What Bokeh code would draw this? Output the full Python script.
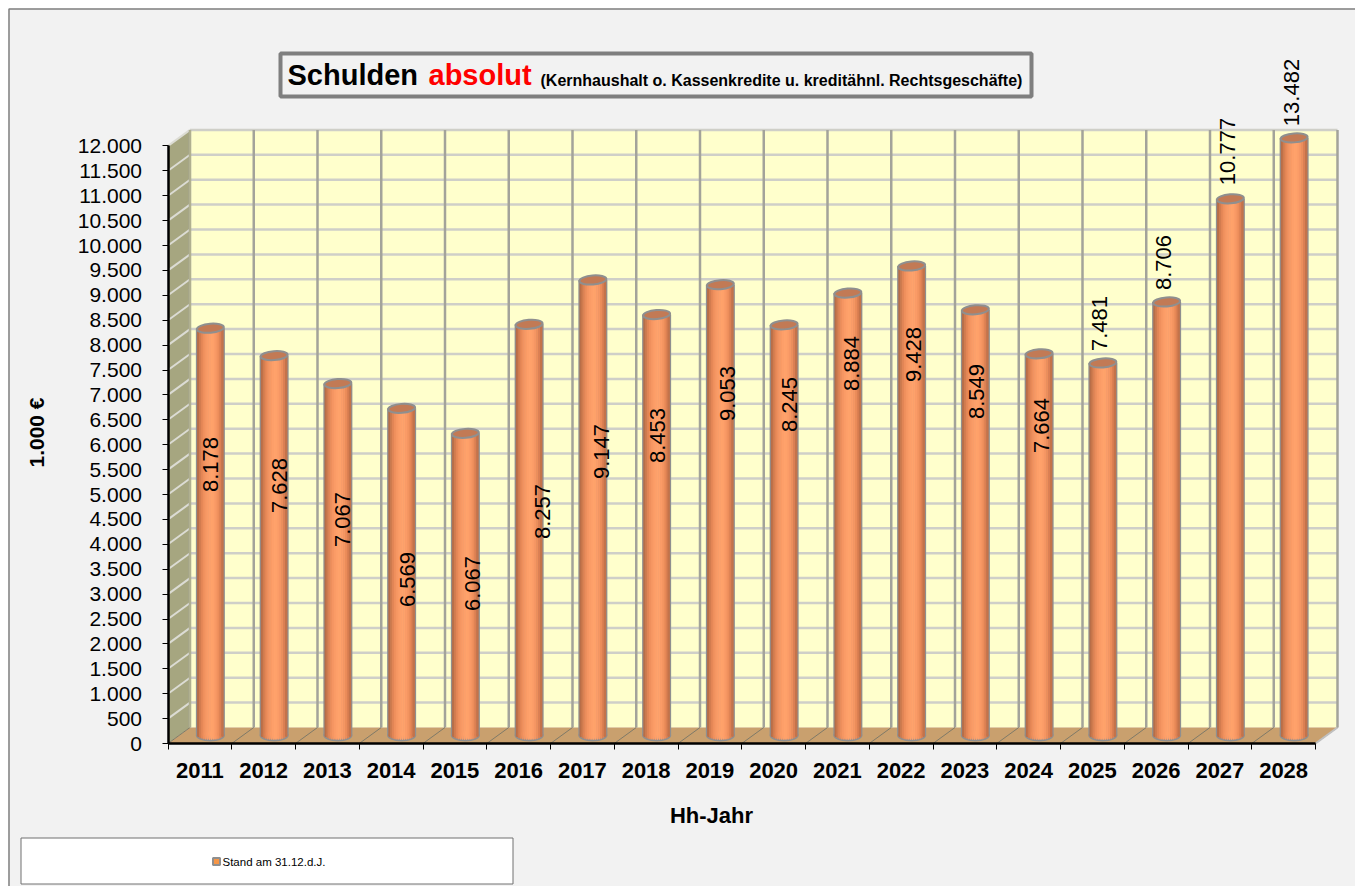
from bokeh.plotting import figure
from bokeh.models import FixedTicker, Range1d
from bokeh.core.properties import value
from bokeh.embed import file_html
from bokeh.resources import INLINE

years = list(range(2011, 2029))
debts = [8178, 7628, 7067, 6569, 6067, 8257, 9147, 8453, 9053, 8245, 8884, 9428, 8549, 7664, 7481, 8706, 10777, 13482]
value_labels = ["8.178", "7.628", "7.067", "6.569", "6.067", "8.257", "9.147", "8.453", "9.053", "8.245",
                "8.884", "9.428", "8.549", "7.664", "7.481", "8.706", "10.777", "13.482"]
# manual placement of the value labels (page pixels, as in the source chart)
label_px_x = [210, 279, 342, 407, 472, 542, 601, 657, 727, 789, 851, 913, 976, 1041, 1099, 1163, 1227, 1291]
label_px_y = [464, 485, 519, 579, 583, 511, 451, 435, 393, 404, 363, 354, 391, 425, 323, 262, 151, 92]
y_ticks = list(range(0, 12001, 500))
AXIS_MAX = 12000

W, H = 1355, 886
PX_X, PX_Y = 63.75, 24.9 / 500
X0_PAGE, Y0_PAGE = 167.5, 743
xs = 2010.5 - X0_PAGE / PX_X
ytop = Y0_PAGE / PX_Y
p = figure(width=W, height=H, output_backend="svg", toolbar_location=None, min_border=0,
           x_range=Range1d(xs, xs + W / PX_X), y_range=Range1d(ytop - H / PX_Y, ytop),
           background_fill_color="#ffffff", border_fill_color="#ffffff", outline_line_color=None)
p.extra_x_ranges["px"] = Range1d(0, W)
p.extra_y_ranges["px"] = Range1d(H, 0)
p.grid.visible = False
PX = dict(x_range_name="px", y_range_name="px")
FONT = value("Liberation Sans")

XL, XR = 2010.5, 2028.5
DX, DY = 22 / PX_X, 16 / PX_Y            # depth of the 3D box
BX, BY = 10.5 / PX_X, 8 / PX_Y           # bars stand mid-depth

# chart area and its outer frame
p.quad(left=[8], right=[W], top=[8], bottom=[H], fill_color="#f2f2f2", line_color=None, **PX)
p.line([8.5, 8.5, W], [H, 8.5, 8.5], line_color="#7f7f7f", line_width=1.5, **PX)

# walls and floor
p.patch([XL, XL + DX, XL + DX, XL], [0, DY, AXIS_MAX + DY, AXIS_MAX], fill_color="#a6a680", line_color=None)
p.patch([XL + DX, XR + DX, XR + DX, XL + DX], [DY, DY, AXIS_MAX + DY, AXIS_MAX + DY], fill_color="#ffffcc", line_color=None)
p.patch([XL, XR, XR + DX, XL + DX], [0, 0, DY, DY], fill_color="#c9a06e", line_color=None)

# grid
grid_y = y_ticks[1:]
p.multi_line([[XL + DX, XR + DX] for _ in grid_y], [[t + DY, t + DY] for t in grid_y], line_color="#cfcfc8", line_width=2.5)
p.multi_line([[XL, XL + DX] for _ in grid_y], [[t, t + DY] for t in grid_y], line_color="#dcdcd4", line_width=2)
bounds = [XL + i for i in range(len(years) + 1)]
p.multi_line([[b + DX, b + DX] for b in bounds], [[DY, AXIS_MAX + DY] for _ in bounds], line_color="#a3a39a", line_width=2.5)
p.multi_line([[b, b + DX] for b in bounds], [[0, DY] for _ in bounds], line_color="#7f7a68", line_width=1)
p.line([XR, XR + DX], [0, DY], line_color="#c0c0c0", line_width=2)
p.line([XL + DX, XL + DX], [DY, AXIS_MAX + DY], line_color="#b0b090", line_width=2)

# cylinders, drawn as narrow strips to imitate the shading
shades = ["#b86e48", "#cf7b4e", "#e28555", "#ee8f5c", "#f59662", "#fa9b66", "#fd9f69", "#ffa26b",
          "#fea16a", "#fb9c67", "#f59662", "#ec8d5a", "#dc8052", "#c4734a"]
BAR_W = 26 / PX_X
clipped = [min(v, AXIS_MAX) for v in debts]
centres = [y + BX for y in years]
strip = BAR_W / len(shades)
ell_h = 9
p.vbar(x=centres, width=BAR_W + 3 / PX_X, bottom=BY, top=[c + BY for c in clipped], fill_color="#8f8f8f", line_color=None)
p.ellipse(x=centres, y=[BY] * 18, width=29, height=ell_h + 3, width_units="screen", height_units="screen",
          fill_color="#8f8f8f", line_color=None)
for i, col in enumerate(shades):
    xx = [c - BAR_W / 2 + strip * (i + 0.5) for c in centres]
    half = abs(i + 0.5 - len(shades) / 2) / (len(shades) / 2)
    h = ell_h * (1 - half * half) ** 0.5
    p.ellipse(x=xx, y=[BY] * 18, width=strip * PX_X * 1.3, height=h, width_units="screen", height_units="screen",
              fill_color=col, line_color=None)
    p.vbar(x=xx, width=strip * 1.3, bottom=BY, top=[c + BY for c in clipped], fill_color=col, line_color=None)
p.ellipse(x=centres, y=[c + BY for c in clipped], width=27, height=ell_h, angle=0.08, width_units="screen", height_units="screen",
          fill_color="#c27a55", line_color="#8f8f8f", line_width=2)

# value labels
p.text(label_px_x, label_px_y, text=value_labels, angle=1.5708, text_align="center", text_baseline="middle",
       text_font=FONT, text_font_size="22px", text_color="#000000", **PX)

# axes
p.yaxis.fixed_location = XL
p.yaxis.bounds = (0, AXIS_MAX)
p.yaxis.ticker = FixedTicker(ticks=y_ticks)
p.yaxis.major_label_overrides = {t: f"{t:,}".replace(",", ".") for t in y_ticks}
p.yaxis.major_label_text_font = "Liberation Sans"
p.yaxis.major_label_text_font_size = "21px"
p.yaxis.major_label_text_color = "#000000"
p.yaxis.major_label_standoff = 20
p.yaxis.major_tick_in = 0
p.yaxis.major_tick_out = 6
p.yaxis.minor_tick_line_color = None
p.yaxis.axis_line_width = 2.5
p.yaxis.axis_line_color = "#000000"

p.xaxis.fixed_location = 0
p.xaxis.bounds = (XL, XR)
p.xaxis.ticker = FixedTicker(ticks=years, minor_ticks=bounds)
p.xaxis.major_label_overrides = {y: str(y) for y in years}
p.xaxis.major_label_text_font = "Liberation Sans"
p.xaxis.major_label_text_font_size = "22px"
p.xaxis.major_label_text_font_style = "bold"
p.xaxis.major_label_text_color = "#000000"
p.xaxis.major_label_standoff = 13
p.xaxis.major_tick_line_color = None
p.xaxis.minor_tick_in = 0
p.xaxis.minor_tick_out = 6
p.xaxis.minor_tick_line_color = "#000000"
p.xaxis.axis_line_width = 2.5
p.xaxis.axis_line_color = "#000000"

# axis titles
p.text([36], [432], text=["1.000 €"], angle=1.5708, text_align="center", text_baseline="middle",
       text_font=FONT, text_font_size="21px", text_font_style="bold", text_color="#000000", **PX)
p.text([711], [815], text=["Hh-Jahr"], text_align="center", text_baseline="middle",
       text_font=FONT, text_font_size="22px", text_font_style="bold", text_color="#000000", **PX)

# title box
BL = dict(text_font=FONT, text_font_style="bold", text_baseline="bottom")
p.quad(left=[280], right=[1031], top=[53], bottom=[96], fill_color=None, line_color="#7f7f7f", line_width=4, **PX)
p.text([287], [90], text=["Schulden"], text_font_size="29px", text_color="#000000", **BL, **PX)
p.text([428], [90], text=["absolut"], text_font_size="29px", text_color="#ff0000", **BL, **PX)
p.text([540], [88], text=["(Kernhaushalt o. Kassenkredite u. kreditähnl. Rechtsgeschäfte)"],
       text_font_size="16px", text_color="#000000", **BL, **PX)

# legend box
p.quad(left=[20.5], right=[512.5], top=[837.5], bottom=[883.5], fill_color="#ffffff", line_color="#707070", line_width=1, **PX)
p.scatter([216], [861], marker="square", size=7, fill_color="#f79646", line_color="#8f8f8f", line_width=2, **PX)
p.text([222], [861], text=["Stand am 31.12.d.J."], text_baseline="middle", text_font=FONT, text_font_size="11.5px",
       text_color="#000000", **PX)

open("out.html", "w").write(file_html(p, INLINE))
